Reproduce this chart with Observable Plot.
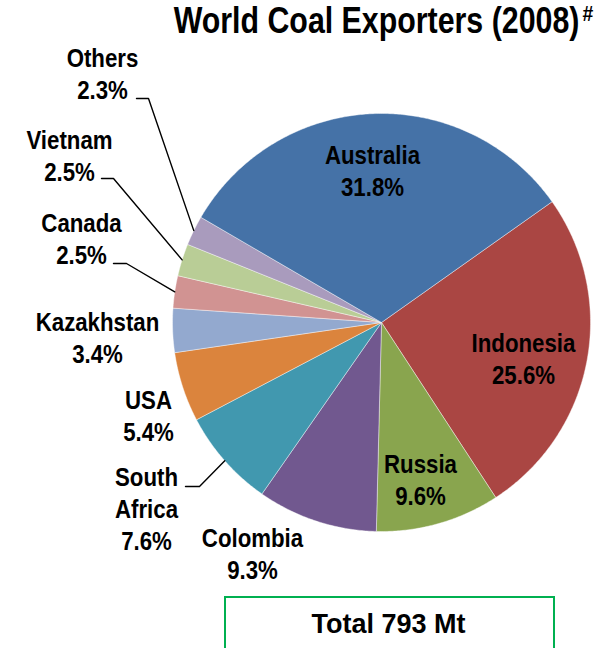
<!DOCTYPE html>
<html><head><meta charset="utf-8">
<script src="https://cdn.jsdelivr.net/npm/d3@7"></script>
<script src="https://cdn.jsdelivr.net/npm/@observablehq/plot@0.6"></script>
<style>body{margin:0;background:#fff} svg{display:block}</style>
</head><body><div id="chart"></div>
<script>
// ---- data ----
const categories = ["Indonesia", "Russia", "Colombia", "South Africa", "USA", "Kazakhstan", "Canada", "Vietnam", "Others", "Australia"];
const shares = [25.6, 9.6, 9.3, 7.6, 5.4, 3.4, 2.5, 2.5, 2.3, 31.8];
const labelNames = ["Indonesia", "Russia", "Colombia", "South\nAfrica", "USA", "Kazakhstan", "Canada", "Vietnam", "Others", "Australia"];
const colors = ["#AA4643", "#89A54E", "#71588F", "#4198AF", "#DB843D", "#93A9CF", "#D19392", "#B9CD96", "#A99BBD", "#4572A7"];
const titleText = "World Coal Exporters (2008)";
const titleMark = "#";
const totalText = "Total 793 Mt";

// ---- layout (pixels) ----
const W = 601, H = 648, CX = 381, CY = 322, R = 209, START_DEG = 54.7;
// label anchor: [center x, baseline of last line]
const labelPos = {
  "Indonesia": [523, 383], "Russia": [420, 504], "Colombia": [252, 578],
  "South Africa": [146, 549], "USA": [148, 440], "Kazakhstan": [97, 362],
  "Canada": [81, 263], "Vietnam": [69, 180], "Others": [102, 98], "Australia": [372, 195]
};
// leader elbows: [x start, x elbow, y]
const leaderPos = {
  "Others": [136, 148, 98], "Vietnam": [101, 113, 178], "Canada": [113, 126, 263], "South Africa": [185, 199, 486]
};
const FONT = "'Liberation Sans', Arial, sans-serif";
const CONDENSE_LABEL = 0.89, CONDENSE_TITLE = 0.82, CONDENSE_MARK = 0.88;

// ---- geometry from data ----
const pie = d3.pie().sort(null).value(d => d.share)
  .startAngle(START_DEG * Math.PI / 180).endAngle(START_DEG * Math.PI / 180 + 2 * Math.PI);
const rows = categories.map((c, i) => ({cat: c, share: shares[i], label: labelNames[i]}));
const arcs = pie(rows);
const pt = (a, r) => [CX + r * Math.sin(a), CY - r * Math.cos(a)];

const slicePts = [];
for (const a of arcs) {
  const n = Math.max(2, Math.ceil((a.endAngle - a.startAngle) / (Math.PI / 360)));
  slicePts.push({cat: a.data.cat, x: CX, y: CY});
  for (let k = 0; k <= n; k++) {
    const t = a.startAngle + (a.endAngle - a.startAngle) * k / n;
    const [x, y] = pt(t, R);
    slicePts.push({cat: a.data.cat, x, y});
  }
  slicePts.push({cat: a.data.cat, x: CX, y: CY});
}

const labels = arcs.map(a => ({
  text: a.data.label + "\n" + a.data.share.toFixed(1) + "%",
  x: labelPos[a.data.cat][0], y: labelPos[a.data.cat][1]
}));

const leaderPts = [];
for (const a of arcs) {
  const L = leaderPos[a.data.cat];
  if (!L) continue;
  const [ex, ey] = pt((a.startAngle + a.endAngle) / 2, R);
  leaderPts.push({cat: a.data.cat, x: L[0], y: L[2]}, {cat: a.data.cat, x: L[1], y: L[2]}, {cat: a.data.cat, x: ex, y: ey});
}

const chart = Plot.plot({
  width: W, height: H, margin: 0,
  style: {background: "#fff", overflow: "hidden"},
  x: {domain: [0, W], range: [0, W], axis: null},
  y: {domain: [0, H], range: [0, H], axis: null},
  color: {domain: categories, range: colors},
  marks: [
    Plot.line(slicePts, {x: "x", y: "y", z: "cat", fill: "cat", stroke: "#ffffff", strokeWidth: 0.6, strokeOpacity: 0.7, curve: "linear"}),
    Plot.line(leaderPts, {x: "x", y: "y", z: "cat", stroke: "#000", strokeWidth: 1.4}),
    Plot.text(labels, {x: "x", y: "y", text: "text", lineAnchor: "bottom", lineHeight: 1.27, fontSize: 25, fontWeight: "bold", fontFamily: FONT, fill: "#000", className: "condlabel"}),
    Plot.text([titleText], {x: 376, y: 32, text: d => d, lineAnchor: "bottom", fontSize: 37, fontWeight: "bold", fontFamily: FONT, fill: "#000", className: "condtitle"}),
    Plot.text([titleMark], {x: 582, y: 20, text: d => d, textAnchor: "start", lineAnchor: "bottom", fontSize: 22, fontWeight: "bold", fontFamily: FONT, fill: "#000", className: "condmark"}),
    Plot.rect([totalText], {x1: 225, x2: 554, y1: 597, y2: 660, fill: "#fff", stroke: "#00B050", strokeWidth: 2}),
    Plot.text([totalText], {x: 388, y: 632, text: d => d, lineAnchor: "bottom", fontSize: 27, fontWeight: "bold", fontFamily: FONT, fill: "#000"})
  ]
});
const condense = (sel, s) => chart.querySelectorAll(sel).forEach(t => {
  t.setAttribute("transform", (t.getAttribute("transform") || "") + ` scale(${s},1)`);
});
condense(".condlabel text", CONDENSE_LABEL);
condense(".condtitle text", CONDENSE_TITLE);
condense(".condmark text", CONDENSE_MARK);
document.getElementById("chart").appendChild(chart);
</script>
</body></html>
